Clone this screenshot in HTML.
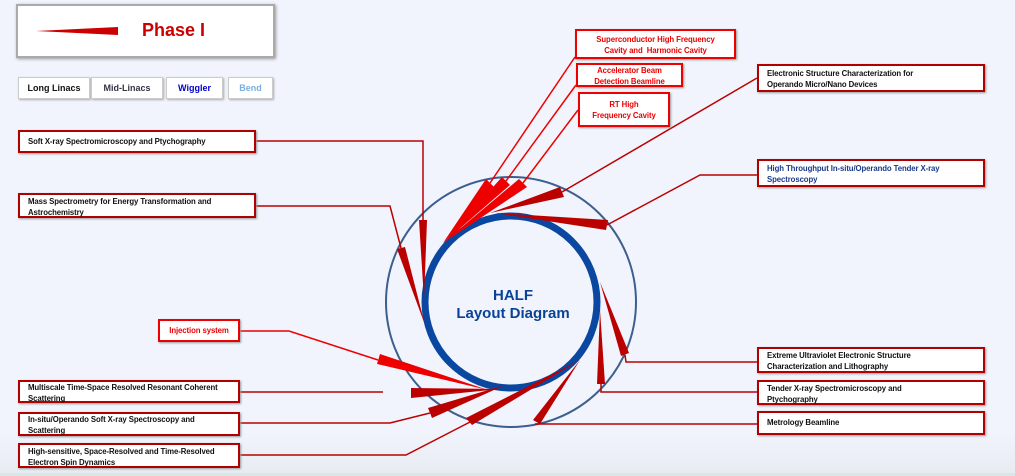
<!DOCTYPE html>
<html><head><meta charset="utf-8">
<style>
html,body{margin:0;padding:0;}
body{width:1015px;height:476px;overflow:hidden;background:#f1f4fc;font-family:"Liberation Sans",sans-serif;position:relative;}
.b{position:absolute;background:#fff;border:2px solid #b00000;box-sizing:border-box;font-size:7.8px;font-weight:bold;line-height:10.5px;padding:3px 8px;color:#111;box-shadow:1px 1px 2px #999;white-space:nowrap;letter-spacing:-0.1px;}
.r{color:#e00;border-color:#e00;text-align:center;padding-left:2px;padding-right:2px;}
.btn{position:absolute;top:77px;height:22px;background:#fff;border:1px solid #ccc;box-shadow:1px 1px 2px #aaa;font-size:9px;font-weight:bold;text-align:center;line-height:20px;box-sizing:border-box;}
</style></head><body>
<div style="position:absolute;left:0;top:430px;width:1015px;height:43px;background:linear-gradient(#f1f4fc,#e8ecf2)"></div>
<div style="position:absolute;left:0;top:473px;width:1015px;height:3px;background:#d8e6e6"></div>
<div style="position:absolute;left:16px;top:4px;width:259px;height:54px;background:#fff;border:2px solid #aaa;box-sizing:border-box;box-shadow:1px 1px 3px #999"></div>
<div style="position:absolute;left:142px;top:20px;font-size:18px;font-weight:bold;color:#c00">Phase I</div>
<div class="btn" style="left:18px;width:72px;color:#111">Long Linacs</div>
<div class="btn" style="left:91px;width:72px;color:#334">Mid-Linacs</div>
<div class="btn" style="left:166px;width:57px;color:#00c">Wiggler</div>
<div class="btn" style="left:228px;width:45px;color:#7aaee0">Bend</div>
<svg width="1015" height="476" style="position:absolute;left:0;top:0">
<polygon points="36,31 118,27 118,35" fill="#c00"/>
<circle cx="511" cy="302" r="125" fill="none" stroke="#3d5f8e" stroke-width="2"/>
<circle cx="511" cy="302" r="86" fill="none" stroke="#0a47a0" stroke-width="7"/>
<text x="513" y="300" text-anchor="middle" font-size="15" font-weight="bold" fill="#0a4296">HALF</text>
<text x="513" y="318" text-anchor="middle" font-size="15" font-weight="bold" fill="#0a4296">Layout Diagram</text>
<g stroke-width="1.5" fill="none">
<polyline points="575,57 490,183" stroke="#e00"/>
<polyline points="576,85 506,181" stroke="#e00"/>
<polyline points="578,110 523,183" stroke="#e00"/>
<polyline points="757,78 562,192" stroke="#b00"/>
<polyline points="757,175 700,175 607,225" stroke="#b00"/>
<polyline points="256,141 423,141 423,220" stroke="#b00"/>
<polyline points="256,206 390,206 401,248" stroke="#b00"/>
<polyline points="757,362 626,362 625,355" stroke="#b00"/>
<polyline points="757,392 601,392 601,383" stroke="#b00"/>
<polyline points="240,331 289,331 378,360" stroke="#e00"/>
<polyline points="240,392 383,392" stroke="#b00"/>
<polyline points="240,423 390,423 430,413" stroke="#b00"/>
<polyline points="240,455 406,455 470,422" stroke="#b00"/>
<polyline points="757,424 535,424" stroke="#b00"/>
</g>
<g>
<polygon points="443,243 486,179 494,187" fill="#e00"/>
<polygon points="443,243 502,177 510,185" fill="#e00"/>
<polygon points="443,243 519,179 527,187" fill="#e00"/>
<polygon points="490,213 560,187 564,197" fill="#b00"/>
<polygon points="495,213 608,220 606,230" fill="#b00"/>
<polygon points="424,300 419,220 427,220" fill="#b00"/>
<polygon points="425,325 397,249 405,247" fill="#b00"/>
<polygon points="600,282 621,356 629,353" fill="#b00"/>
<polygon points="600,310 597,384 605,384" fill="#b00"/>
<polygon points="488,390 377,364 380,354" fill="#e00"/>
<polygon points="500,389 411,388 411,398" fill="#b00"/>
<polygon points="505,385 428,408 432,418" fill="#b00"/>
<polygon points="580,360 466,418 472,425" fill="#b00"/>
<polygon points="580,360 533,420 540,424" fill="#b00"/>
</g>
</svg>
<div class="b r" style="left:575px;top:29px;width:161px;height:30px;padding-top:4px">Superconductor High Frequency<br>Cavity and &nbsp;Harmonic Cavity</div>
<div class="b r" style="left:576px;top:63px;width:107px;height:24px;padding-top:1px">Accelerator Beam<br>Detection Beamline</div>
<div class="b r" style="left:578px;top:92px;width:92px;height:35px;padding-top:6px">RT High<br>Frequency Cavity</div>
<div class="b" style="left:757px;top:64px;width:228px;height:28px">Electronic Structure Characterization for<br>Operando Micro/Nano Devices</div>
<div class="b" style="left:757px;top:159px;width:228px;height:28px;color:#1a3a8a">High Throughput In-situ/Operando Tender X-ray<br>Spectroscopy</div>
<div class="b" style="left:757px;top:347px;width:228px;height:26px;padding-top:2px">Extreme Ultraviolet Electronic Structure<br>Characterization and Lithography</div>
<div class="b" style="left:757px;top:380px;width:228px;height:25px;padding-top:2px">Tender X-ray Spectromicroscopy and<br>Ptychography</div>
<div class="b" style="left:757px;top:411px;width:228px;height:24px;padding-top:5px">Metrology Beamline</div>
<div class="b" style="left:18px;top:130px;width:238px;height:23px;padding-top:5px">Soft X-ray Spectromicroscopy and Ptychography</div>
<div class="b" style="left:18px;top:193px;width:238px;height:25px;padding-top:2px">Mass Spectrometry for Energy Transformation and<br>Astrochemistry</div>
<div class="b r" style="left:158px;top:319px;width:82px;height:23px;padding-top:5px">Injection system</div>
<div class="b" style="left:18px;top:380px;width:222px;height:23px;padding-top:1px">Multiscale Time-Space Resolved Resonant Coherent<br>Scattering</div>
<div class="b" style="left:18px;top:412px;width:222px;height:24px;padding-top:1px">In-situ/Operando Soft X-ray Spectroscopy and<br>Scattering</div>
<div class="b" style="left:18px;top:443px;width:222px;height:25px;padding-top:2px">High-sensitive, Space-Resolved and Time-Resolved<br>Electron Spin Dynamics</div>
</body></html>
